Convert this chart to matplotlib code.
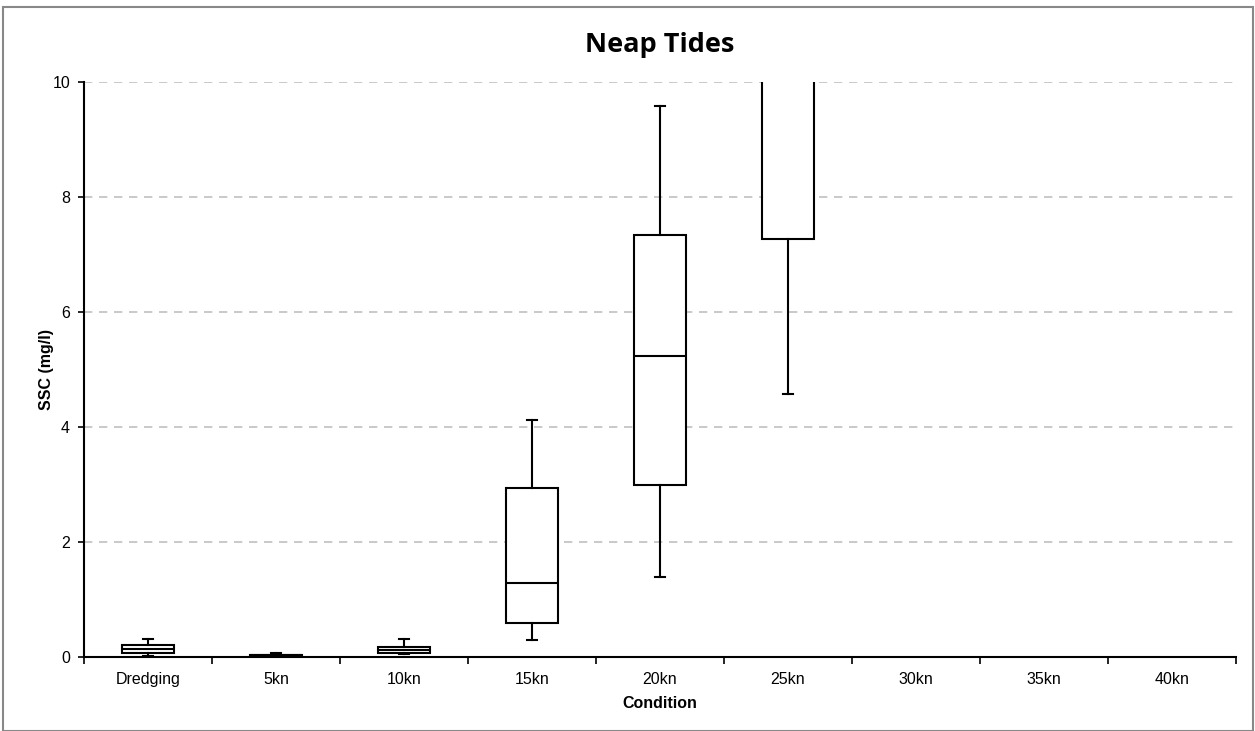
import matplotlib
matplotlib.use("Agg")
import matplotlib.pyplot as plt
from matplotlib.patches import Rectangle

categories = ["Dredging", "5kn", "10kn", "15kn", "20kn", "25kn", "30kn", "35kn", "40kn"]
whislo = [0.02, 0.00, 0.05, 0.29, 1.39, 4.57]
q1     = [0.07, 0.01, 0.07, 0.59, 3.00, 7.27]
med    = [0.14, 0.03, 0.13, 1.29, 5.23, 10.8]
q3     = [0.21, 0.04, 0.18, 2.94, 7.34, 13.0]
whishi = [0.31, 0.07, 0.32, 4.13, 9.59, 16.0]
yticks = [0, 2, 4, 6, 8, 10]

plt.rcParams['font.family'] = ['Liberation Sans', 'DejaVu Sans']

fig = plt.figure(figsize=(12.55, 7.31), dpi=100)
ax = fig.add_axes([84/1255, 1-657/731, (1236-84)/1255, (657-82)/731])

stats = []
for i in range(len(whislo)):
    stats.append(dict(whislo=whislo[i], q1=q1[i], med=med[i], q3=q3[i],
                      whishi=whishi[i], fliers=[], label=categories[i]))

positions = list(range(1, len(whislo) + 1))
ax.bxp(stats, positions=positions, widths=0.4, capwidths=0.08, showfliers=False,
       patch_artist=True,
       boxprops=dict(facecolor='white', edgecolor='black', linewidth=1.5),
       medianprops=dict(color='black', linewidth=1.5),
       whiskerprops=dict(color='black', linewidth=1.5),
       capprops=dict(color='black', linewidth=1.5))

ax.set_xlim(0.5, len(categories) + 0.5)
ax.set_ylim(0, 10)
ax.set_yticks(yticks)
ax.set_yticklabels([str(t) for t in yticks], fontsize=11.5)
ax.set_xticks(range(1, len(categories) + 1))
ax.set_xticklabels(categories, fontsize=11.5)
ax.set_xticks([i + 0.5 for i in range(len(categories) + 1)], minor=True)
ax.tick_params(axis='x', which='major', length=0, pad=11)
ax.tick_params(axis='x', which='minor', length=5, width=1.2, direction='out')
ax.tick_params(axis='y', which='major', length=4, width=1.2, direction='out', pad=6)

for s in ['top', 'right']:
    ax.spines[s].set_visible(False)
for s in ['left', 'bottom']:
    ax.spines[s].set_linewidth(1.5)
    ax.spines[s].set_color('black')

ax.yaxis.grid(True, linestyle=(0, (5, 4)), color='#c0c0c0', linewidth=1.2)
ax.set_axisbelow(True)

ax.set_xlabel("Condition", fontsize=11.5, fontweight='bold', labelpad=6)
ax.set_ylabel("SSC (mg/l)", fontsize=11.5, fontweight='bold', labelpad=-1)
fig.text(660/1255, 1-45/731, "Neap Tides", ha='center', va='center',
         fontsize=19.5, fontweight='bold', family=['Open Sans', 'DejaVu Sans'])

fig.patches.append(Rectangle((3/1255, 0), 1250/1255, 1-7/731, transform=fig.transFigure,
                             fill=False, edgecolor='#888888', linewidth=1.5))

fig.savefig("out.png", dpi=100)
